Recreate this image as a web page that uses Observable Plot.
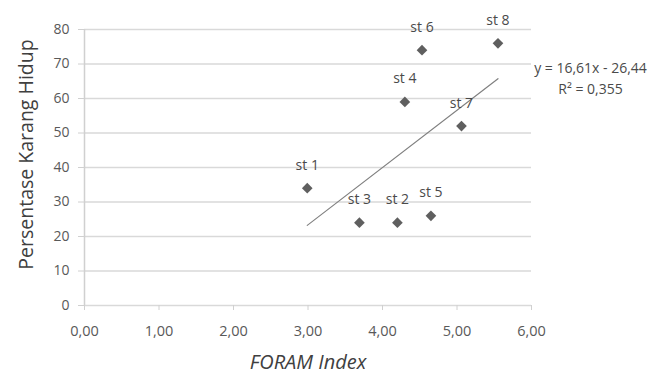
<!DOCTYPE html>
<html>
<head>
<meta charset="utf-8">
<script src="https://cdn.jsdelivr.net/npm/d3@7"></script>
<script src="https://cdn.jsdelivr.net/npm/@observablehq/plot@0.6"></script>
<style>
  html, body { margin: 0; padding: 0; background: #fff; }
</style>
</head>
<body>
<div id="chart"></div>
<script>
const stations = ["st 1", "st 2", "st 3", "st 4", "st 5", "st 6", "st 7", "st 8"];
const foramIndex = [2.99, 4.20, 3.69, 4.30, 4.65, 4.53, 5.06, 5.55];
const liveCoral = [34, 24, 24, 59, 26, 74, 52, 76];
const xTicks = [0, 1, 2, 3, 4, 5, 6];
const yTicks = [0, 10, 20, 30, 40, 50, 60, 70, 80];
const slope = 16.61;
const intercept = -26.44;
const equationText = "y = 16,61x - 26,44";
const r2Text = "R² = 0,355";
const xTitle = "FORAM Index";
const yTitle = "Persentase Karang Hidup";

const points = stations.map((s, i) => ({ station: s, x: foramIndex[i], y: liveCoral[i] }));
const [xmin, xmax] = d3.extent(foramIndex);
const trend = [xmin, xmax].map(x => ({ x, y: slope * x + intercept }));

const fmt = d => d.toFixed(2).replace(".", ",");
const txt = "#595959";

const chart = Plot.plot({
  width: 654,
  height: 376,
  marginLeft: 84,
  marginRight: 123,
  marginTop: 29,
  marginBottom: 71,
  x: { domain: [0, 6], ticks: xTicks },
  y: { domain: [0, 80], ticks: yTicks },
  style: { fontFamily: "Open Sans", fontSize: "14px", color: txt, background: "white", overflow: "visible" },
  marks: [
    Plot.ruleY(yTicks, { stroke: "#d9d9d9", strokeWidth: 1.5 }),
    Plot.ruleX([0], { stroke: "#d0d0d0", strokeWidth: 1.5 }),
    Plot.axisY(yTicks, { tickSize: 6, tickPadding: 9, stroke: "#d0d0d0", label: null, fill: txt, fontSize: 14 }),
    Plot.axisX(xTicks, { tickSize: 5, tickPadding: 15, stroke: "#d0d0d0", tickFormat: fmt, label: null, fill: txt, fontSize: 14.5 }),
    Plot.text([xTitle], { frameAnchor: "bottom", lineAnchor: "middle", dy: 57, fontSize: 20, fontStyle: "italic", fill: "#404040" }),
    Plot.text([yTitle], { frameAnchor: "left", textAnchor: "middle", lineAnchor: "middle", dx: -58, dy: -13, rotate: -90, fontSize: 19.5, fill: "#404040" }),
    Plot.line(trend, { x: "x", y: "y", stroke: "#808080", strokeWidth: 1.2 }),
    Plot.dot(points, { x: "x", y: "y", symbol: "diamond2", r: 4.8, fill: "#5f5f5f", stroke: "none" }),
    Plot.text(points, { x: "x", y: "y", text: "station", dy: -23, fontSize: 14, fill: "#4a4a4a" }),
    Plot.text([equationText], { frameAnchor: "top-right", textAnchor: "middle", lineAnchor: "middle", dx: 59, dy: 39, fontSize: 14, fill: "#4a4a4a" }),
    Plot.text([r2Text], { frameAnchor: "top-right", textAnchor: "middle", lineAnchor: "middle", dx: 59, dy: 60, fontSize: 14, fill: "#4a4a4a" })
  ]
});
document.getElementById("chart").appendChild(chart);
</script>
</body>
</html>
